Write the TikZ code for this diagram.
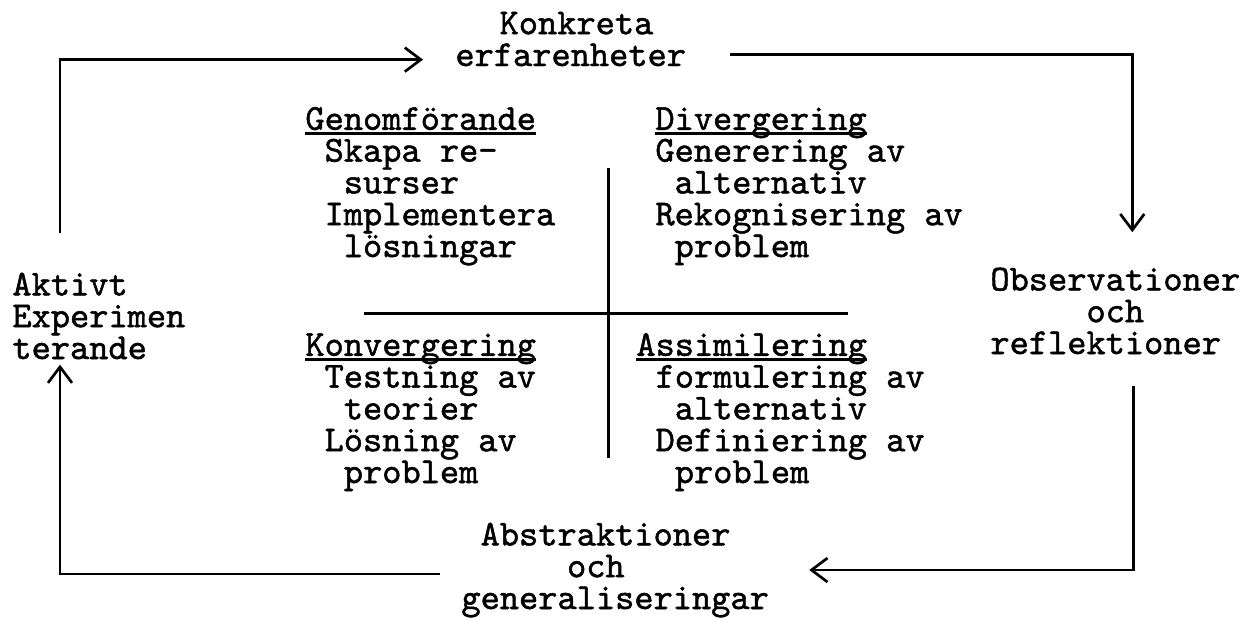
\documentclass[tikz,border=0pt]{standalone}
\usepackage{fontspec}
\usepackage{tikz}
\usetikzlibrary{arrows.meta,calc}
\newfontfamily\twfont{lmmono10-regular}[Extension=.otf,FakeBold=1.3]
\newcommand{\colskip}[1]{\hspace*{#1\fontcharwd\font`\x}}
\newcommand{\undl}[1]{\setbox0=\hbox{#1}\rlap{\rule[-2.4pt]{\wd0}{1.2pt}}\box0}

\begin{document}
\begin{tikzpicture}[x=0.5pt,y=0.5pt,>={Straight Barb[length=8pt,width=12pt]}]
  \tikzset{
    lbl/.style={font=\twfont\fontsize{18.3}{15.9}\selectfont,align=left,inner sep=0pt,anchor=base west},
    flow/.style={->,line width=1.35pt},
    cross/.style={line width=1.5pt}
  }
  \useasboundingbox (0,0) rectangle (1247,-618);
  % the four stations of the cycle (base = last line)
  \node[lbl] (konk) at (455,-66) {\colskip{2.3}Konkreta\\erfarenheter};
  \node[lbl] (obs) at (990,-354) {Observationer\\\colskip{5}och\\reflektioner};
  \node[lbl] (abs) at (461,-609) {\colskip{1}Abstraktioner\\\colskip{5.5}och\\generaliseringar};
  \node[lbl] (aktiv) at (12,-359) {Aktivt\\Experimen\\terande};
  % the four quadrants
  \node[lbl] (genom) at (305,-257) {\undl{Genomförande}\\\colskip{1}Skapa re-\\\colskip{2}surser\\\colskip{1}Implementera\\\colskip{2}lösningar};
  \node[lbl] (diverg) at (655,-257) {\undl{Divergering}\\Generering av\\\colskip{1}alternativ\\Rekognisering av\\\colskip{1}problem};
  \node[lbl] (konv) at (305,-483) {\undl{Konvergering}\\\colskip{1}Testning av\\\colskip{2}teorier\\\colskip{1}Lösning av\\\colskip{2}problem};
  \node[lbl] (assim) at (636,-483) {\undl{Assimilering}\\\colskip{1}formulering av\\\colskip{2}alternativ\\\colskip{1}Definiering av\\\colskip{2}problem};
  \draw[cross] (364,-313) -- (848,-313);
  \draw[cross] (608,-168) -- (608,-458);
  % the cycle
  \draw[flow] ($(aktiv.north west)+(48,39)$) |- ($(konk.south west)+(-32,7)$);
  \draw[flow] ($(konk.south east)+(44,12)$) -| ($(obs.north)+(17,35)$);
  \draw[flow] ($(obs.south)+(18,-31)$) |- ($(abs.east)+(40,0)$);
  \draw[flow] ($(abs.west)+(-21,-4)$) -| ($(aktiv.south west)+(48,-5)$);
\end{tikzpicture}
\end{document}
